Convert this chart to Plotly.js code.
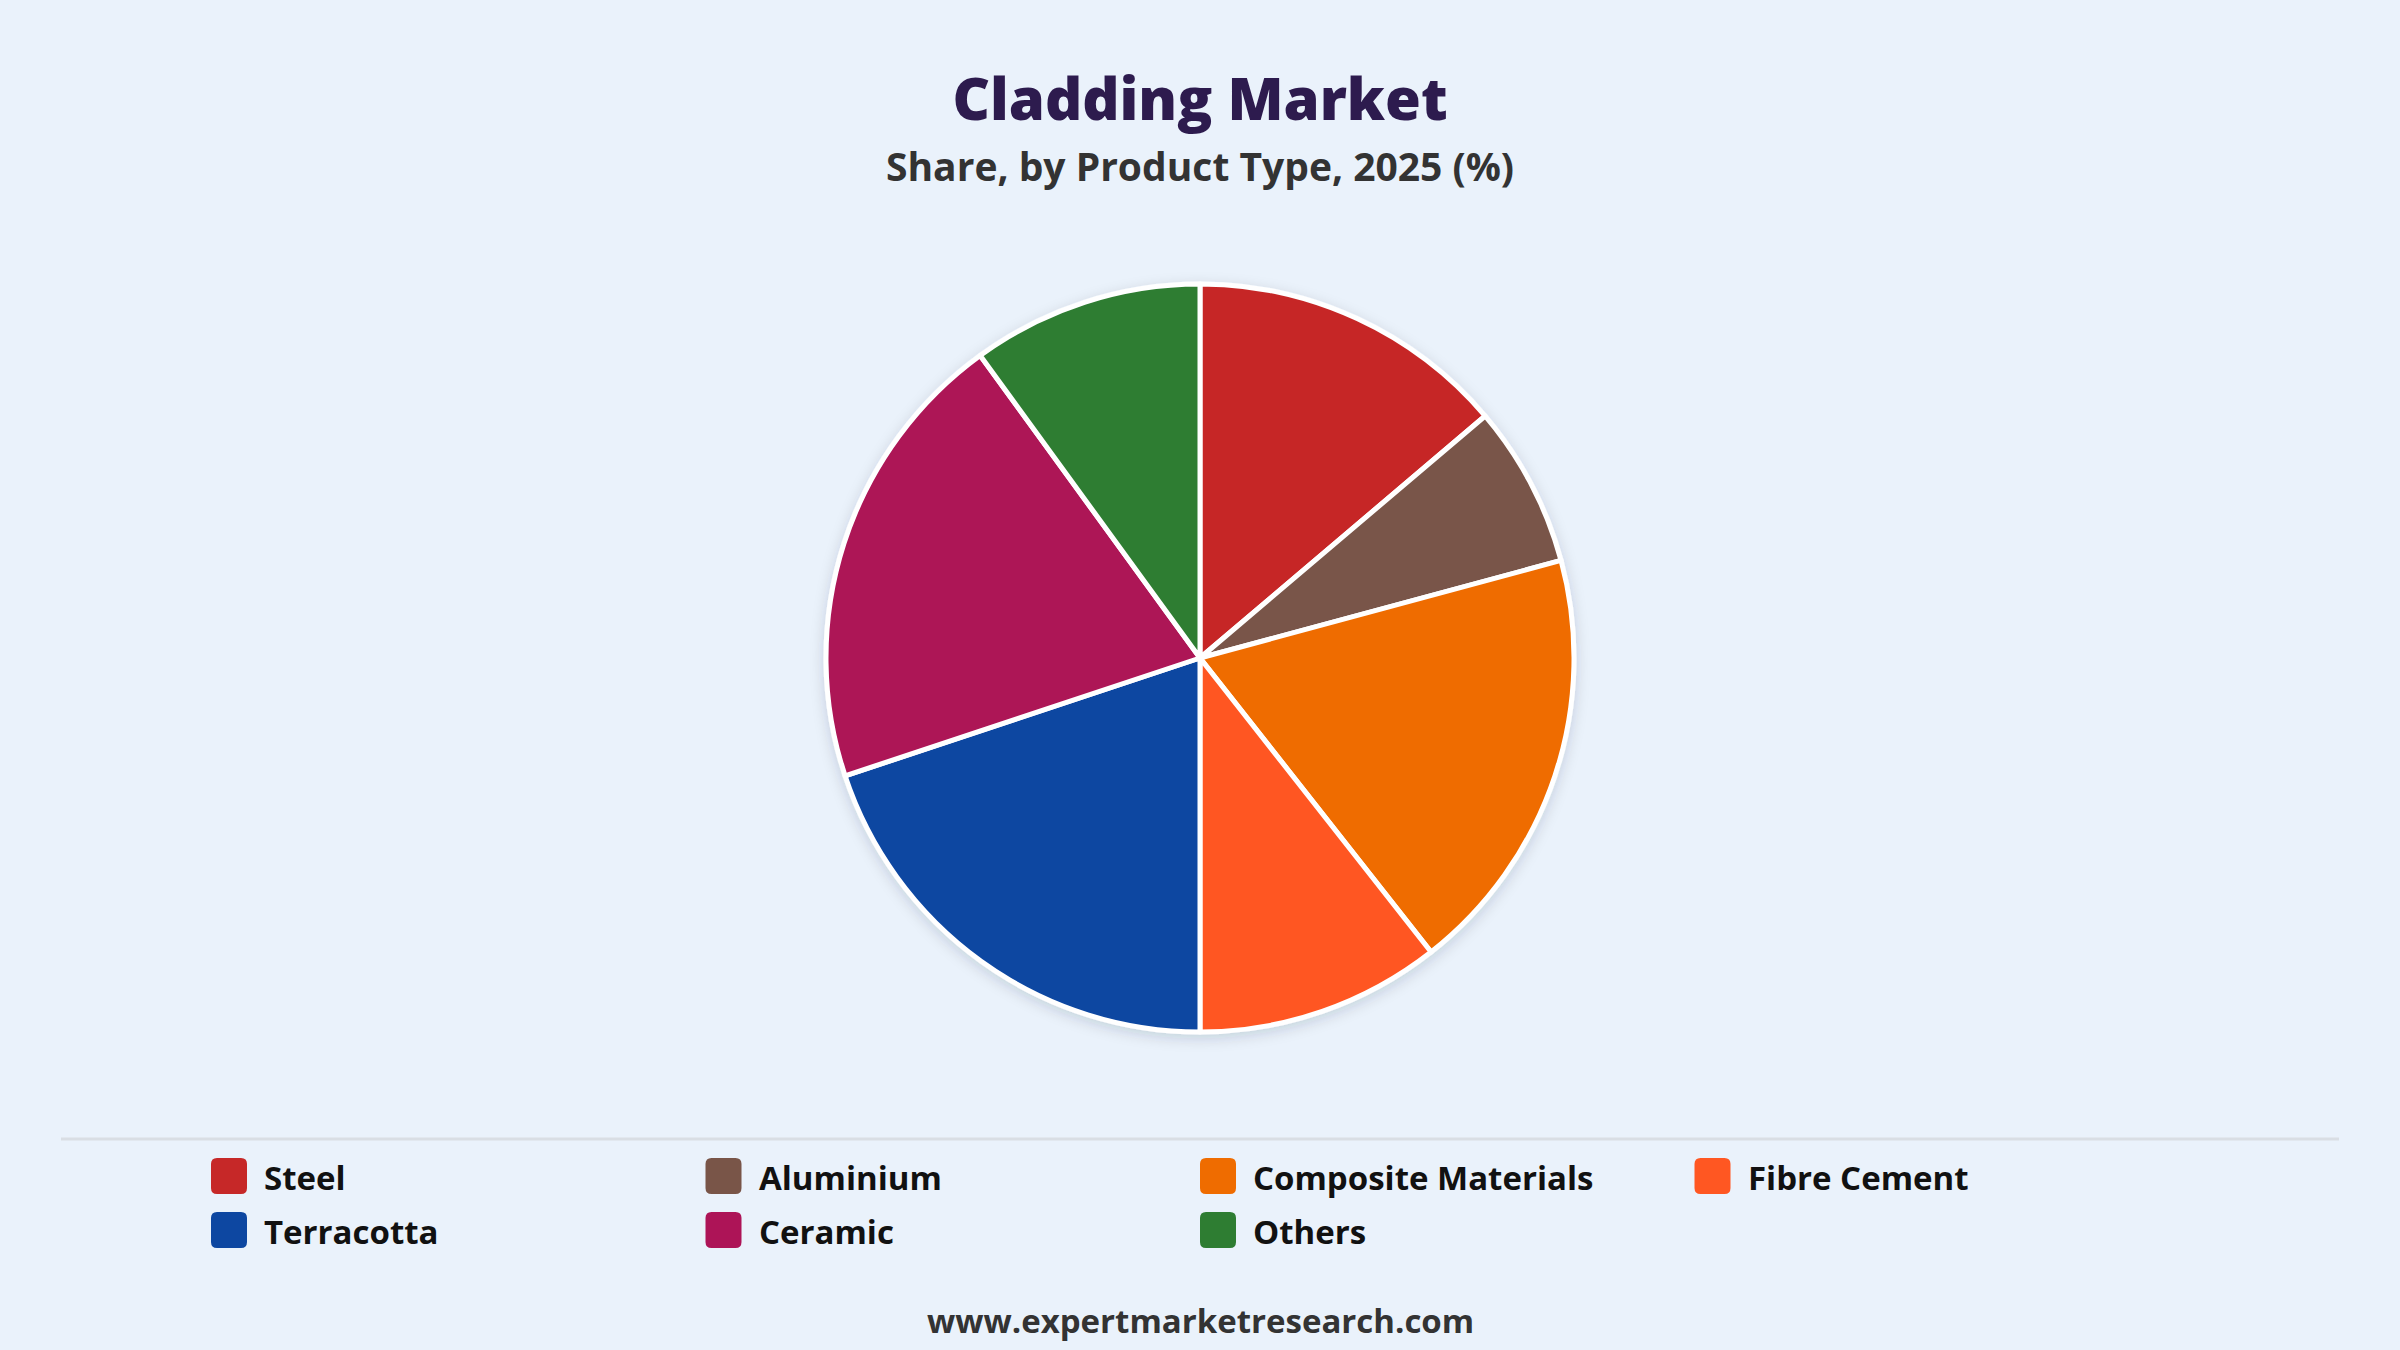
<!DOCTYPE html>
<html>
<head>
<meta charset="utf-8">
<script src="https://cdn.plot.ly/plotly-3.0.1.min.js"></script>
<style>
  html, body { margin: 0; padding: 0; background: #eaf2fb; }
  #chart { width: 2400px; height: 1350px; }
  .pielayer .trace { filter: url(#pieShadow); }
</style>
</head>
<body>
<svg width="0" height="0" style="position:absolute">
  <defs>
    <filter id="pieShadow" x="-20%" y="-20%" width="140%" height="140%">
      <feDropShadow dx="0" dy="4" stdDeviation="7" flood-color="#1b2a40" flood-opacity="0.16"/>
    </filter>
  </defs>
</svg>
<div id="chart"></div>
<script>
// ---- data ----
const categories = ["Steel", "Aluminium", "Composite Materials", "Fibre Cement", "Terracotta", "Ceramic", "Others"];
const shares = [13.8, 7.0, 18.6, 10.6, 19.9, 20.1, 10.0];
const colors = ["#C62828", "#795548", "#EF6C00", "#FF5722", "#0D47A1", "#AD1457", "#2E7D32"];
const titleText = "Cladding Market";
const subtitleText = "Share, by Product Type, 2025 (%)";
const sourceText = "www.expertmarketresearch.com";

// ---- layout helpers (pixel -> paper) ----
const W = 2400, H = 1350;
const px = x => x / W;
const py = y => 1 - y / H;
const FONT = "'Open Sans', 'Noto Sans', sans-serif";

const cx = 1200, cy = 658, r = 374;

const trace = {
  type: "pie",
  labels: categories,
  values: shares,
  marker: { colors: colors, line: { color: "#ffffff", width: 5 } },
  sort: false,
  direction: "clockwise",
  rotation: 0,
  textinfo: "none",
  hovertemplate: "%{label}: %{value}%<extra></extra>",
  domain: { x: [px(cx - r), px(cx + r)], y: [py(cy + r), py(cy - r)] },
  showlegend: false
};

// custom legend built from the category arrays
const shapes = [];
const annotations = [];
const colStart = 229, colStep = 494.5, rowStart = 1176, rowStep = 54, sw = 36, rad = 6;
const h = sw / 2, k = h - rad;
const rrect = `M ${-k},${-h} L ${k},${-h} Q ${h},${-h} ${h},${-k} L ${h},${k} Q ${h},${h} ${k},${h} L ${-k},${h} Q ${-h},${h} ${-h},${k} L ${-h},${-k} Q ${-h},${-h} ${-k},${-h} Z`;
categories.forEach((c, i) => {
  const col = i % 4, row = Math.floor(i / 4);
  const xc = colStart + col * colStep, yc = rowStart + row * rowStep;
  shapes.push({
    type: "path", xref: "paper", yref: "paper",
    xsizemode: "pixel", ysizemode: "pixel",
    xanchor: px(xc), yanchor: py(yc),
    path: rrect, fillcolor: colors[i], line: { width: 0 }
  });
  annotations.push({
    text: c, xref: "paper", yref: "paper",
    x: px(xc + h + 15), y: py(yc + 1), xanchor: "left", yanchor: "middle",
    showarrow: false, font: { family: FONT, size: 33, color: "#111111", weight: 700 }
  });
});

// separator line above legend
shapes.push({
  type: "line", xref: "paper", yref: "paper",
  x0: px(61), x1: px(2339), y0: py(1139), y1: py(1139),
  line: { color: "#d9dee4", width: 3 }
});

annotations.push({
  text: subtitleText, xref: "paper", yref: "paper",
  x: 0.5, y: py(165), xanchor: "center", yanchor: "middle",
  showarrow: false, font: { family: FONT, size: 39, color: "#333333", weight: 700 }
});
annotations.push({
  text: sourceText, xref: "paper", yref: "paper",
  x: 0.5, y: py(1320), xanchor: "center", yanchor: "middle",
  showarrow: false, font: { family: FONT, size: 33, color: "#333333", weight: 700 }
});

const layout = {
  width: W, height: H,
  margin: { l: 0, r: 0, t: 0, b: 0 },
  paper_bgcolor: "#eaf2fb",
  plot_bgcolor: "#eaf2fb",
  title: {
    text: titleText,
    x: 0.5, xanchor: "center",
    y: py(100), yanchor: "middle", yref: "container",
    font: { family: FONT, size: 58, color: "#2d1b4e", weight: 800 }
  },
  showlegend: false,
  shapes: shapes,
  annotations: annotations
};

Plotly.newPlot("chart", [trace], layout, { displayModeBar: false, staticPlot: false });
</script>
</body>
</html>
